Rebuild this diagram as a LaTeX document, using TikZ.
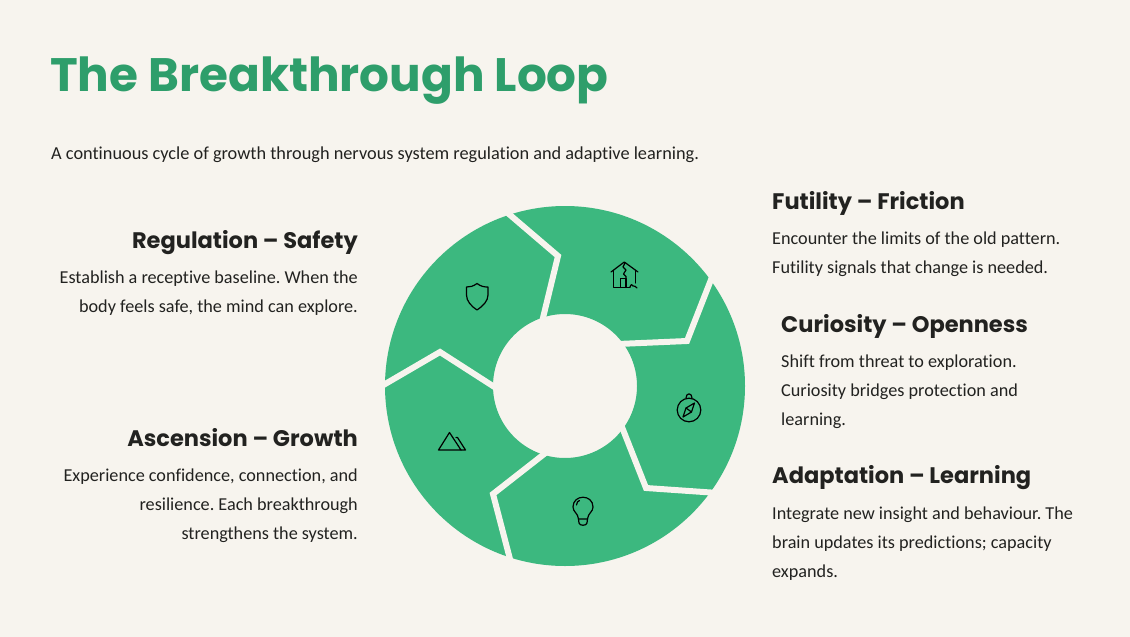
\documentclass[tikz,border=0pt]{standalone}
\usepackage{fontspec}
\setmainfont{Carlito}[Ligatures=NoCommon]
\newfontfamily\headfont{Poppins}
\frenchspacing
\definecolor{bgc}{RGB}{247,244,238}
\definecolor{ringc}{RGB}{60,184,127}
\definecolor{titlec}{RGB}{46,158,107}
\definecolor{inkc}{RGB}{34,34,32}
\tikzset{
  headl/.style={anchor=base west,inner sep=0pt,text=inkc,font=\headfont\bfseries\fontsize{22.5}{26}\selectfont},
  headr/.style={anchor=base east,inner sep=0pt,text=inkc,font=\headfont\bfseries\fontsize{22.5}{26}\selectfont},
  bodyl/.style={anchor=north west,inner sep=0pt,text=inkc,align=left,font=\fontsize{18.2}{29}\selectfont},
  bodyr/.style={anchor=north east,inner sep=0pt,text=inkc,align=right,font=\fontsize{18.2}{29}\selectfont},
  gapline/.style={draw=bgc,line width=6pt,line join=miter},
  icon/.style={draw=black,line width=1.2pt,line join=round,line cap=round},
}
\begin{document}
\begin{tikzpicture}[x=1pt,y=-1pt]
\useasboundingbox (0,0) rectangle (1130,637);
\fill[bgc] (0,0) rectangle (1130,637);
\node[anchor=base west,inner sep=0pt,text=titlec,font=\headfont\bfseries\fontsize{46.9}{54}\selectfont] (title) at (50,91) {The Breakthrough Loop};
\node[anchor=base west,inner sep=0pt,text=inkc,font=\fontsize{18.3}{22}\selectfont] (subtitle) at (51,159) {A continuous cycle of growth through nervous system regulation and adaptive learning.};
% ring
\coordinate (c) at (565,386);
\fill[ringc,even odd rule] (c) circle[radius=180] (c) circle[radius=72];
% gaps
\coordinate (a1) at (503,209); \coordinate (a2) at (558,256); \coordinate (a3) at (542,322);
\coordinate (b1) at (714,272); \coordinate (b2) at (687,341); \coordinate (b3) at (618,344);
\coordinate (d1) at (620,422); \coordinate (d2) at (646,488); \coordinate (d3) at (718,493);
\coordinate (e1) at (548,451); \coordinate (e2) at (493,494); \coordinate (e3) at (511,563);
\coordinate (f1) at (380,387); \coordinate (f2) at (440,352); \coordinate (f3) at (496,388);
\draw[gapline] (a1)--(a2)--(a3);
\draw[gapline] (b1)--(b2)--(b3);
\draw[gapline] (d1)--(d2)--(d3);
\draw[gapline] (e1)--(e2)--(e3);
\draw[gapline] (f1)--(f2)--(f3);
% shield
\draw[icon] (477,283.5) .. controls (473,286.5) and (470,287) .. (466.5,287) -- (466.5,295) .. controls (466.5,301) and (471,306) .. (477,310) .. controls (483,306) and (488,301) .. (488,295) -- (488,287) .. controls (484,287) and (481,286.5) .. (477,283.5) -- cycle;
% house
\draw[icon] (611,272) -- (624.3,262) -- (638,272);
\draw[icon] (613.5,270.5) -- (613.5,287.5) -- (630,287.5);
\draw[icon] (635.5,270.5) -- (635.5,283);
\draw[icon] (620.5,287.5) -- (620.5,278.5) -- (626,278.5) -- (626,287.5);
\draw[icon] (625,263) -- (623,267) -- (626,270) -- (623.5,274) -- (626,276.5) -- (626,278.5);
\draw[icon] (630,287) .. controls (631,284) and (632,284) .. (633,286) .. controls (634,287) and (636,285) .. (637,288);
% compass
\draw[icon] (689,410) circle[radius=11.8];
\draw[icon] (686,398) .. controls (686,392.5) and (692,392.5) .. (692,398);
\draw[icon] (694.5,403) -- (691.5,412) -- (683,417) -- (686,408) -- cycle;
\draw[icon] (686,408) -- (691.5,412);
% bulb
\draw[icon] (578.5,519) .. controls (578,513) and (573,512) .. (573,507) .. controls (573,494) and (593,494) .. (593,507) .. controls (593,512) and (588,513) .. (587.5,519) -- cycle;
\draw[icon] (578.5,519) -- (579,523) .. controls (579.5,526) and (586.5,526) .. (587,523) -- (587.5,519);
\draw[icon] (576.5,505) .. controls (576.5,502.5) and (578,501) .. (579.5,500.5);
% mountains
\draw[icon] (438.5,450) -- (449.5,432.5) -- (461,450) -- cycle;
\draw[icon] (456,437.5) -- (457.5,437.5) -- (465.5,450) -- (461,450);
% Regulation
\node[headr] (regh) at (358,248) {Regulation – Safety};
\node[bodyr] (regb) at (358,270.5) {Establish a receptive baseline. When the\\body feels safe, the mind can explore.};
% Ascension
\node[headr] (asch) at (358,446) {Ascension – Growth};
\node[bodyr] (ascb) at (358,468.5) {Experience confidence, connection, and\\resilience. Each breakthrough\\strengthens the system.};
% Futility
\node[headl] (futh) at (772,209) {Futility – Friction};
\node[bodyl] (futb) at (772,232) {Encounter the limits of the old pattern.\\Futility signals that change is needed.};
% Curiosity
\node[headl] (curh) at (781,332) {Curiosity – Openness};
\node[bodyl] (curb) at (781,355) {Shift from threat to exploration.\\Curiosity bridges protection and\\learning.};
% Adaptation
\node[headl] (adah) at (772,483) {Adaptation – Learning};
\node[bodyl] (adab) at (772,506.5) {Integrate new insight and behaviour. The\\brain updates its predictions; capacity\\expands.};
\end{tikzpicture}
\end{document}
